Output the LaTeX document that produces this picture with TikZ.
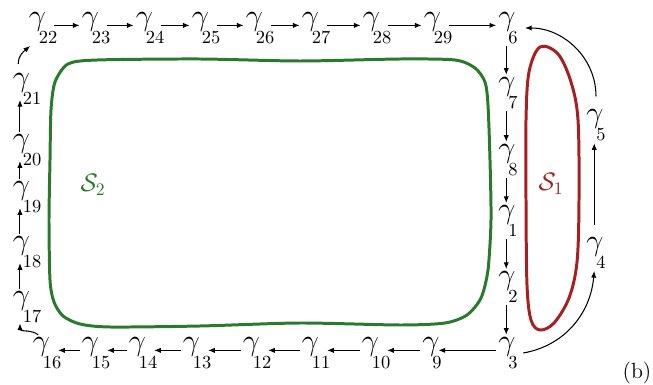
\documentclass[tikz,border=0pt]{standalone}
\usetikzlibrary{arrows.meta}
\definecolor{sgreen}{RGB}{42,122,44}
\definecolor{sred}{RGB}{166,32,34}
\newcommand{\gsub}[1]{$\gamma$\kern-4pt\raisebox{-10.6pt}{\fontsize{10.5}{12}\selectfont#1}}
\begin{document}
\begin{tikzpicture}[x=0.02cm,y=-0.02cm,font=\fontsize{16.5}{19}\selectfont,
	gnode/.style={inner sep=1pt},
	flow/.style={->,>={Latex[length=3.8pt,width=3pt]},semithick}]
		\useasboundingbox (0,0) rectangle (653,385);
		
		% Regions
		\draw[sgreen,line width=1.7pt] plot[smooth cycle,tension=0.45] coordinates {(97,60) (200,59) (300,61) (400,59) (455,60) (475,68) (485,82) (488,105) (490,160) (491,220) (488,270) (481,298) (467,315) (445,323) (400,325) (300,323) (200,326) (110,327) (80,324) (63,316) (54,302) (50,280) (49,220) (50,160) (51,110) (55,82) (68,64)};
		\draw[sred,line width=1.7pt] plot[smooth cycle,tension=0.55] coordinates {(540,47) (558,54) (571,82) (578,120) (579,200) (577,262) (569,298) (554,323) (540,330) (531,320) (527,285) (526,200) (526,120) (529,72)};
		\node[text=sgreen,font=\fontsize{14}{16}\selectfont] (s2) at (93,185) {$\mathcal{S}_2$};
		\node[text=sred,font=\fontsize{14}{16}\selectfont] (s1) at (551,184) {$\mathcal{S}_1$};
		
		% Top row
		\node[gnode] (g22) at (43,28) {\gsub{22}};
		\node[gnode] (g23) at (96,28) {\gsub{23}};
		\node[gnode] (g24) at (150,28) {\gsub{24}};
		\node[gnode] (g25) at (206,28) {\gsub{25}};
		\node[gnode] (g26) at (260,28) {\gsub{26}};
		\node[gnode] (g27) at (316,28) {\gsub{27}};
		\node[gnode] (g28) at (377,28) {\gsub{28}};
		\node[gnode] (g29) at (438,28) {\gsub{29}};
		\node[gnode] (g6) at (508,28) {\gsub{6}};
		
		% Right column
		\node[gnode] (g7) at (508,93) {\gsub{7}};
		\node[gnode] (g8) at (508,160) {\gsub{8}};
		\node[gnode] (g1) at (508,221) {\gsub{1}};
		\node[gnode] (g2) at (508,287) {\gsub{2}};
		\node[gnode] (g3) at (508,353) {\gsub{3}};
		\node[gnode] (g4) at (596,253) {\gsub{4}};
		\node[gnode] (g5) at (596,125) {\gsub{5}};
		
		% Bottom row
		\node[gnode] (g9) at (432,353) {\gsub{9}};
		\node[gnode] (g10) at (376,353) {\gsub{10}};
		\node[gnode] (g11) at (316,353) {\gsub{11}};
		\node[gnode] (g12) at (257,353) {\gsub{12}};
		\node[gnode] (g13) at (197,353) {\gsub{13}};
		\node[gnode] (g14) at (143,353) {\gsub{14}};
		\node[gnode] (g15) at (96,353) {\gsub{15}};
		\node[gnode] (g16) at (47,353) {\gsub{16}};
		
		% Left column
		\node[gnode] (g17) at (27,307) {\gsub{17}};
		\node[gnode] (g18) at (27,252) {\gsub{18}};
		\node[gnode] (g19) at (27,197) {\gsub{19}};
		\node[gnode] (g20) at (27,150) {\gsub{20}};
		\node[gnode] (g21) at (27,89) {\gsub{21}};
		
		% Arrows
		\foreach \a/\b in {22/23,23/24,24/25,25/26,26/27,27/28,28/29,29/6}
			\draw[flow,shorten <=-3pt] ([yshift=1.5pt]g\a.east) -- ([yshift=1.5pt]g\b.west);
		\foreach \a/\b in {6/7,7/8,8/1,1/2,2/3}
			\draw[flow] ([xshift=-1pt]g\a.south) -- ([xshift=-1pt]g\b.north);
		\foreach \a/\b in {3/9,9/10,10/11,11/12,12/13,13/14,14/15,15/16}
			\draw[flow,shorten >=-3pt] ([yshift=1.5pt]g\a.west) -- ([yshift=1.5pt]g\b.east);
		\foreach \a/\b in {17/18,18/19,19/20,20/21}
			\draw[flow,shorten >=-4pt] ([xshift=-4pt]g\a.north) -- ([xshift=-4pt]g\b.south);
		\draw[flow] ([xshift=-5pt]g16.north) to[out=140,in=-90] ([xshift=-4pt,yshift=1pt]g17.south);
		\draw[flow] ([xshift=-5pt,yshift=4pt]g21.north) to[out=90,in=-140] ([xshift=2pt]g22.south west);
		\draw[flow] ([xshift=2pt]g3.east) to[out=10,in=-95] ([xshift=-1pt]g4.south);
		\draw[flow,shorten <=6pt] ([xshift=-1pt]g4.north) -- ([xshift=-1pt]g5.south);
		\draw[flow] ([yshift=6pt]g5.north) to[out=90,in=0] ([xshift=3pt]g6.east);
		
		\node[font=\fontsize{12.5}{14}\selectfont] (tag) at (637,373) {(b)};
	\end{tikzpicture}
\end{document}
